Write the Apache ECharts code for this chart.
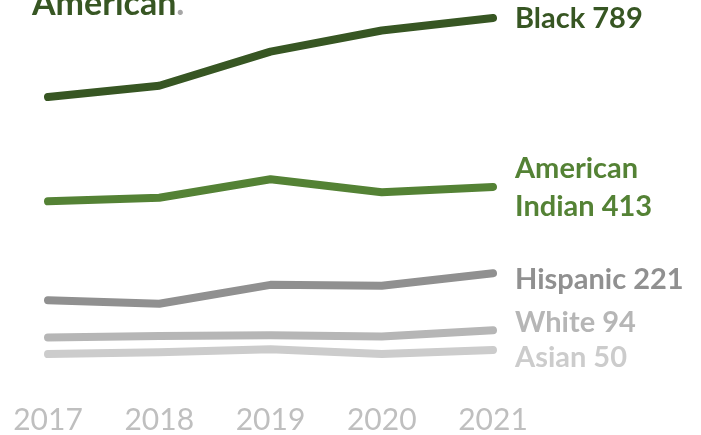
<!DOCTYPE html>
<html>
<head>
<meta charset="utf-8">
<style>
  html, body { margin: 0; padding: 0; background: #ffffff; }
  #chart { width: 701px; height: 435px; }
</style>
<script src="https://cdn.jsdelivr.net/npm/echarts@6/dist/echarts.min.js"></script>
</head>
<body>
<div id="chart"></div>
<script>
// Years shown along the bottom
const years = ['2017', '2018', '2019', '2020', '2021'];

// Rates by group, one list per line
const black = [613, 638, 714, 761, 789];
const americanIndian = [381, 389, 430, 401, 413];
const hispanic = [161, 153, 195, 193, 221];
const white = [78, 81, 83, 80, 94];
const asian = [41, 45, 52, 41, 50];

// Group names used in the end labels
const groupNames = ['Black', 'American\nIndian', 'Hispanic', 'White', 'Asian'];

const FONT = 'Lato, "Open Sans", sans-serif';

function lineSeries(name, data, color, dy) {
  return {
    name: name,
    type: 'line',
    data: data,
    symbol: 'none',
    smooth: false,
    lineStyle: { color: color, width: 8, cap: 'round', join: 'round' },
    endLabel: {
      show: true,
      distance: 22,
      offset: [0, dy],
      color: color,
      fontFamily: FONT,
      fontWeight: 'bold',
      fontSize: 29,
      lineHeight: 38,
      formatter: function (p) { return name + ' ' + p.value; }
    },
    emphasis: { disabled: true }
  };
}

const chart = echarts.init(document.getElementById('chart'), null, { renderer: 'canvas' });

chart.setOption({
  animation: false,
  grid: { left: 48, right: 208, top: 13, bottom: 62.5, containLabel: false, outerBoundsMode: 'none' },
  xAxis: {
    type: 'category',
    data: years,
    boundaryGap: false,
    axisLine: { show: false },
    axisTick: { show: false },
    splitLine: { show: false },
    axisLabel: {
      color: '#bfbfbf',
      fontFamily: FONT,
      fontSize: 30,
      margin: 33
    }
  },
  yAxis: {
    type: 'value',
    min: 0,
    max: 800,
    show: false
  },
  graphic: [
    {
      type: 'text',
      left: 32,
      top: -13,
      style: {
        text: '{a|American}{b|.}',
        rich: {
          a: { fontFamily: FONT, fontWeight: 'bold', fontSize: 34, fill: '#375623' },
          b: { fontFamily: FONT, fontWeight: 'bold', fontSize: 34, fill: '#a6a6a6' }
        }
      }
    }
  ],
  series: [
    lineSeries(groupNames[4], asian, '#cccccc', 8),
    lineSeries(groupNames[3], white, '#b6b6b6', -8),
    lineSeries(groupNames[2], hispanic, '#909090', 6),
    lineSeries(groupNames[1], americanIndian, '#548235', 1),
    lineSeries(groupNames[0], black, '#375623', 1)
  ]
});
</script>
</body>
</html>
